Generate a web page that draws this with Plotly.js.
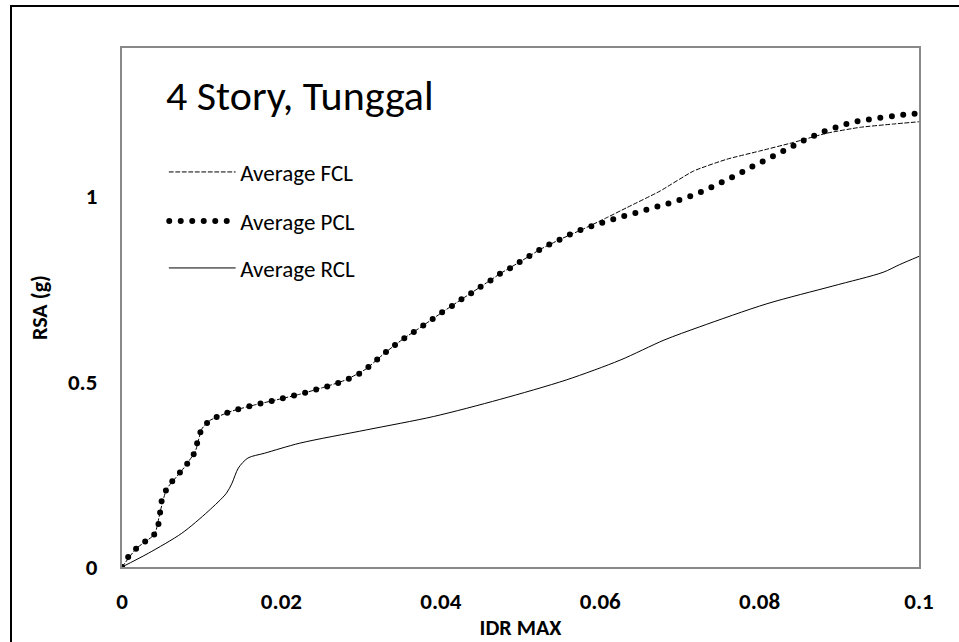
<!DOCTYPE html>
<html>
<head>
<meta charset="utf-8">
<script src="https://cdn.plot.ly/plotly-3.0.1.min.js"></script>
<style>
html,body{margin:0;padding:0;background:#fff;}
#chart{width:959px;height:642px;}
.js-line{stroke-linecap:round;}
</style>
</head>
<body>
<div id="chart"></div>
<script>
// ---- data ----
const chartTitle = "4 Story, Tunggal";
const xTitle = "IDR MAX";
const yTitle = "RSA (g)";
const seriesNames = ["Average FCL", "Average PCL", "Average RCL"];

const fclX = [0,0.0018,0.0041,0.0048,0.0056,0.0075,0.0092,0.0100,0.0110,0.0137,0.0166,0.0194,0.0223,0.0252,0.0280,0.0306,0.0329,0.0352,0.0377,0.0401,0.0426,0.0450,0.0475,0.0500,0.0525,0.0552,0.0579,0.0606,0.0633,0.0675,0.0717,0.0759,0.0800,0.0842,0.0884,0.0926,0.0968,0.1000];
const fclY = [0,0.050,0.089,0.150,0.210,0.260,0.312,0.372,0.395,0.420,0.437,0.451,0.466,0.484,0.504,0.534,0.576,0.614,0.650,0.686,0.722,0.756,0.792,0.824,0.857,0.886,0.912,0.940,0.969,1.014,1.068,1.100,1.122,1.145,1.170,1.186,1.195,1.201];

const pclX = [0,0.0008,0.0018,0.0030,0.0041,0.0046,0.0048,0.0050,0.0056,0.0065,0.0075,0.0084,0.0092,0.0095,0.0100,0.0110,0.0123,0.0137,0.0151,0.0166,0.0180,0.0194,0.0209,0.0223,0.0238,0.0252,0.0266,0.0280,0.0294,0.0306,0.0317,0.0329,0.0340,0.0352,0.0365,0.0377,0.0389,0.0401,0.0414,0.0426,0.0438,0.0450,0.0463,0.0475,0.0488,0.0500,0.0513,0.0525,0.0538,0.0552,0.0565,0.0579,0.0593,0.0607,0.0621,0.0635,0.0650,0.0663,0.0678,0.0692,0.0706,0.0720,0.0734,0.0747,0.0760,0.0774,0.0787,0.0800,0.0813,0.0826,0.0839,0.0852,0.0866,0.0880,0.0893,0.0907,0.0922,0.0936,0.0951,0.0966,0.0980,0.1000];
const pclY = [0,0.028,0.050,0.070,0.089,0.118,0.150,0.181,0.210,0.237,0.260,0.285,0.312,0.341,0.372,0.395,0.409,0.420,0.429,0.437,0.444,0.451,0.459,0.466,0.475,0.484,0.492,0.504,0.516,0.534,0.554,0.576,0.595,0.614,0.632,0.650,0.668,0.686,0.704,0.722,0.738,0.756,0.774,0.792,0.807,0.824,0.841,0.857,0.872,0.886,0.900,0.912,0.922,0.932,0.941,0.950,0.958,0.967,0.976,0.985,0.995,1.006,1.019,1.032,1.046,1.060,1.076,1.090,1.104,1.118,1.132,1.147,1.161,1.174,1.184,1.194,1.202,1.207,1.212,1.216,1.220,1.224];

const rclX = [0,0.0033,0.0075,0.0108,0.0131,0.0138,0.0146,0.0158,0.0179,0.0223,0.0307,0.0391,0.0474,0.0558,0.0625,0.0680,0.0725,0.0809,0.0892,0.0955,0.0976,0.1000];
const rclY = [0,0.037,0.091,0.150,0.199,0.226,0.267,0.294,0.307,0.334,0.370,0.406,0.452,0.505,0.558,0.612,0.648,0.710,0.758,0.795,0.816,0.838];

const xTickVals = [0,0.02,0.04,0.06,0.08,0.1];
const xTickText = ["0","0.02","0.04","0.06","0.08","0.1"];
const yTickVals = [0,0.5,1];
const yTickText = ["0","0.5","1"];

// ---- chart ----
const FONT = "Carlito, Calibri, Lato, sans-serif";

const traces = [
  {x: fclX, y: fclY, name: seriesNames[0], mode: "lines", legend: "legend",
   line: {color: "#000", width: 1, dash: "4px,2.5px", shape: "spline", smoothing: 0.5}},
  {x: pclX, y: pclY, name: seriesNames[1], mode: "lines", legend: "legend2",
   line: {color: "#000", width: 6, dash: "0px,11.5px", shape: "spline", smoothing: 0.4}},
  {x: rclX, y: rclY, name: seriesNames[2], mode: "lines", legend: "legend3",
   line: {color: "#000", width: 1, shape: "spline", smoothing: 0.8}}
];

function legendAt(yPaper){
  return {x: 0.053, y: yPaper, xanchor: "left", yanchor: "middle",
    bgcolor: "rgba(0,0,0,0)", borderwidth: 0, itemwidth: 66,
    font: {family: FONT, size: 23, color: "#000"}};
}

const layout = {
  width: 959, height: 642,
  margin: {l: 122, r: 40, t: 48, b: 75},
  paper_bgcolor: "#fff", plot_bgcolor: "#fff",
  font: {family: FONT, color: "#000"},
  showlegend: true,
  legend: legendAt(1 - (172 - 48) / 519),
  legend2: legendAt(1 - (221 - 48) / 519),
  legend3: legendAt(1 - (268 - 48) / 519),
  xaxis: {
    range: [0, 0.1], tickvals: xTickVals, ticktext: xTickText,
    showgrid: false, zeroline: false, showline: true, mirror: true,
    linecolor: "#898989", linewidth: 2, ticks: "",
    ticklabelstandoff: 12,
    tickfont: {family: FONT, size: 23, color: "#000", weight: "bold"},
    title: {text: "<b>" + xTitle + "</b>", standoff: 6,
      font: {family: FONT, size: 22, color: "#000"}}
  },
  yaxis: {
    range: [0, 1.4], tickvals: yTickVals, ticktext: yTickText,
    showgrid: false, zeroline: false, showline: true, mirror: true,
    linecolor: "#898989", linewidth: 2, ticks: "",
    ticklabelstandoff: 18,
    tickfont: {family: FONT, size: 23, color: "#000", weight: "bold"},
    title: {text: "<b>" + yTitle + "</b>", standoff: 14,
      font: {family: FONT, size: 22, color: "#000"}}
  },
  annotations: [
    {text: chartTitle, xref: "paper", yref: "paper",
     x: (164 - 122) / 797, y: 1 - (96 - 48) / 519, xanchor: "left", yanchor: "middle",
     showarrow: false, font: {family: FONT, size: 42, color: "#000"}}
  ],
  shapes: [
    {type: "rect", xref: "paper", yref: "paper",
     x0: (11 - 122) / 797, x1: 1.2, y0: -0.4, y1: 1 + (48 - 6) / 519,
     line: {color: "#000", width: 2}, fillcolor: "rgba(0,0,0,0)", layer: "above"}
  ]
};

Plotly.newPlot("chart", traces, layout, {displayModeBar: false, staticPlot: true});
</script>
</body>
</html>
